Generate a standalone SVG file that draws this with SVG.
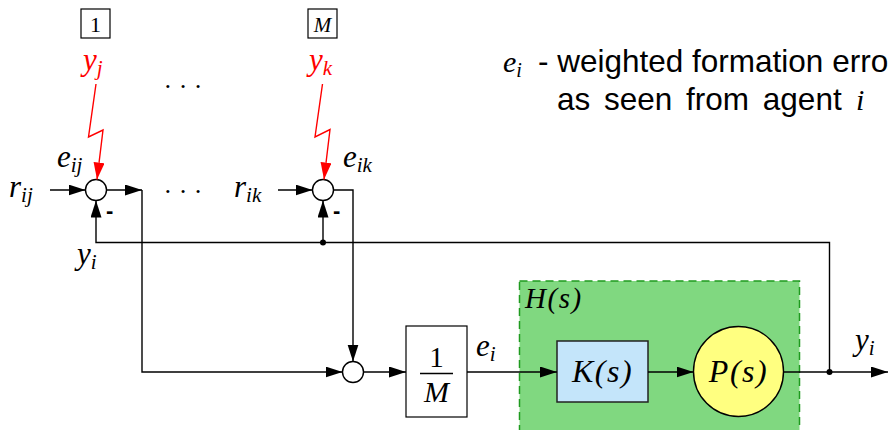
<svg xmlns="http://www.w3.org/2000/svg" width="888" height="430" viewBox="0 0 888 430">
<defs>
<marker id="ah" markerUnits="userSpaceOnUse" markerWidth="18" markerHeight="12" refX="17" refY="5.5" orient="auto"><path d="M0,0 L17,5.5 L0,11 z" fill="#000"/></marker>
<marker id="ahr" markerUnits="userSpaceOnUse" markerWidth="18" markerHeight="12" refX="17" refY="5.5" orient="auto"><path d="M0,0 L17,5.5 L0,11 z" fill="#ff0000"/></marker>
</defs>
<style>
.m{font-family:"Liberation Serif","DejaVu Serif",serif;font-style:italic;fill:#000}
.n{font-family:"Liberation Serif","DejaVu Serif",serif;fill:#000}
.s{font-family:"Liberation Sans",Arial,sans-serif;fill:#000}
.red{fill:#ff0000}
.ln{fill:none;stroke:#000;stroke-width:1.4}
.rl{fill:none;stroke:#ff0000;stroke-width:1.4}
.sum{fill:#fff;stroke:#000;stroke-width:1.4}
.box{fill:#fff;stroke:#000;stroke-width:1.2}
</style>

<g id="hbox">
<rect x="519.5" y="281" width="280" height="160" fill="#80d880" stroke="#1f9a1f" stroke-width="1.5" stroke-dasharray="8 5"/>
<text class="m" x="525" y="308" font-size="29" letter-spacing="1.5">H<tspan class="n">(</tspan>s<tspan class="n">)</tspan></text>
</g>

<g id="agent1">
<rect class="box" x="81" y="9" width="29" height="29"/>
<text class="n" x="95.5" y="32" font-size="22" text-anchor="middle">1</text>
</g>
<g id="agentM">
<rect class="box" x="308" y="9" width="29" height="29"/>
<text class="m" x="322.5" y="32" font-size="21" text-anchor="middle">M</text>
</g>
<g id="yj"><text class="m red" x="83" y="70" font-size="31">y<tspan font-size="21" dy="5">j</tspan></text></g>
<g id="yk"><text class="m red" x="309" y="70" font-size="31">y<tspan font-size="21" dy="5">k</tspan></text></g>
<g id="dots1"><text class="n" x="183" y="95" font-size="26" text-anchor="middle">· · ·</text></g>
<g id="dots2"><text class="n" x="183" y="200" font-size="26" text-anchor="middle">· · ·</text></g>

<g id="legend">
<text class="m" x="503" y="72" font-size="30">e<tspan font-size="20" dy="5">i</tspan></text>
<text class="s" x="538" y="72" font-size="31.5">- weighted formation erro</text>
<text class="s" x="557" y="110" font-size="31.5" word-spacing="5">as seen from agent</text>
<text class="m" x="856" y="110" font-size="30">i</text>
</g>

<g id="sum1">
<circle class="sum" cx="96" cy="190" r="10.5"/>
<text class="s" x="106" y="218" font-size="22" font-weight="bold">-</text>
</g>
<g id="sumM">
<circle class="sum" cx="323" cy="190" r="10.5"/>
<text class="s" x="333" y="218" font-size="22" font-weight="bold">-</text>
</g>
<g id="sumBottom"><circle class="sum" cx="353" cy="372" r="10.5"/></g>

<g id="labels">
<text class="m" x="57" y="167" font-size="31">e<tspan font-size="21" dy="5">ij</tspan></text>
<text class="m" x="343" y="167" font-size="31">e<tspan font-size="21" dy="5">ik</tspan></text>
<text class="m" x="9" y="197" font-size="31">r<tspan font-size="21" dy="5">ij</tspan></text>
<text class="m" x="234" y="197" font-size="31">r<tspan font-size="21" dy="5">ik</tspan></text>
<text class="m" x="77" y="264" font-size="31">y<tspan font-size="21" dy="5">i</tspan></text>
<text class="m" x="476" y="356" font-size="31">e<tspan font-size="21" dy="5">i</tspan></text>
<text class="m" x="855" y="350" font-size="31">y<tspan font-size="21" dy="5">i</tspan></text>
</g>

<g id="gain">
<rect class="box" x="406" y="326" width="61" height="91"/>
<text class="n" x="436.5" y="367" font-size="29" text-anchor="middle">1</text>
<line x1="420" y1="373.5" x2="453" y2="373.5" stroke="#000" stroke-width="1.3"/>
<text class="m" x="436.5" y="402" font-size="30" text-anchor="middle">M</text>
</g>

<g id="K">
<rect x="557" y="341" width="91" height="61" fill="#c4e5fa" stroke="#222" stroke-width="1.5"/>
<text class="m" x="602.5" y="382" font-size="32" letter-spacing="1.5" text-anchor="middle">K<tspan class="n">(</tspan>s<tspan class="n">)</tspan></text>
</g>
<g id="P">
<circle cx="738.5" cy="371.5" r="45" fill="#ffff80" stroke="#000" stroke-width="1.4"/>
<text class="m" x="738.5" y="382" font-size="32" letter-spacing="1.5" text-anchor="middle">P<tspan class="n">(</tspan>s<tspan class="n">)</tspan></text>
</g>

<g id="connectors">
<path class="rl" d="M96,84 L88.5,137 L103,130 L97,179.5" marker-end="url(#ahr)"/>
<path class="rl" d="M322.5,84 L315,137 L330,129.5 L324,179.5" marker-end="url(#ahr)"/>
<path class="ln" d="M50,190 H85.5" marker-end="url(#ah)"/>
<path class="ln" d="M106.5,190 H142" marker-end="url(#ah)"/>
<path class="ln" d="M142,190 V372 H342.5" marker-end="url(#ah)"/>
<path class="ln" d="M278,190 H312.5" marker-end="url(#ah)"/>
<path class="ln" d="M333.5,190 H353 V361.5" marker-end="url(#ah)"/>
<path class="ln" d="M829.5,372 V242.5 H96 V200.5" marker-end="url(#ah)"/>
<path class="ln" d="M323,242.5 V200.5" marker-end="url(#ah)"/>
<circle cx="323" cy="242.5" r="3" fill="#000"/>
<path class="ln" d="M363.5,372 H406" marker-end="url(#ah)"/>
<path class="ln" d="M467,372 H557" marker-end="url(#ah)"/>
<path class="ln" d="M648,372 H693.5" marker-end="url(#ah)"/>
<path class="ln" d="M783.5,372 H888" marker-end="url(#ah)"/>
<circle cx="829.5" cy="372" r="3" fill="#000"/>
</g>
</svg>
